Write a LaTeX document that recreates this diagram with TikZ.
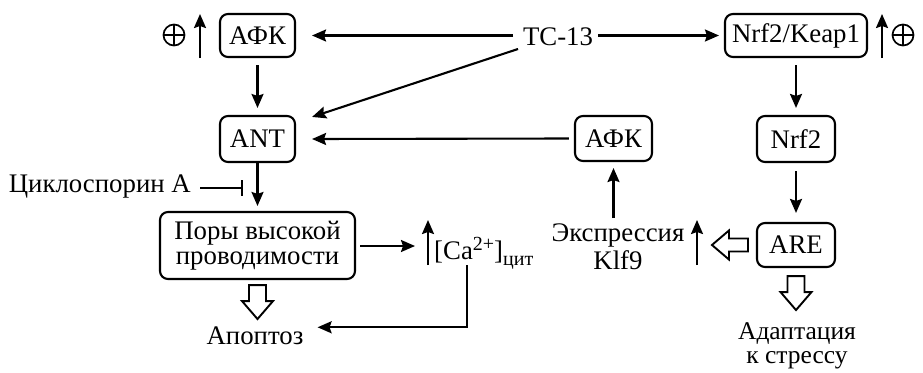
\documentclass[tikz,border=0pt]{standalone}
\usepackage{fontspec}
\setmainfont{Liberation Serif}
\usetikzlibrary{arrows.meta,calc}
\begin{document}
\begin{tikzpicture}[x=1pt,y=-1pt,
  lw/.style={line width=2.1pt},
  box/.style={draw,lw,rounded corners=8pt,inner sep=0pt,align=center,font=\fontsize{26.8}{25}\selectfont},
  txt/.style={inner sep=0pt,align=center,font=\fontsize{26.8}{28}\selectfont},
  arr/.style={lw,-{Stealth[length=14pt,width=12pt,inset=2pt]}},
  inh/.style={lw,-{Bar[width=16pt,line width=2.1pt]}},
  hollow/.style={line width=1.9pt,fill=white,line join=miter},
  oplus/.style={circle,draw,line width=1.7pt,minimum size=21pt,inner sep=0pt,
    path picture={\draw[line width=1.7pt] (path picture bounding box.north) -- (path picture bounding box.south)
      (path picture bounding box.west) -- (path picture bounding box.east);}}
]
\useasboundingbox (0,0) rectangle (923,372);
% nodes
\node[box,minimum width=75pt,minimum height=43pt] (afk1) at (257.5,35.5) {АФК};
\node[box,minimum width=75pt,minimum height=46pt] (ant) at (257.5,139) {ANT};
\node[txt] (tc) at (558,37) {ТС-13};
\node[box,minimum width=142pt,minimum height=43pt] (nk) at (796,35.5) {Nrf2/Keap1};
\node[box,minimum width=77pt,minimum height=45pt] (afk2) at (613.5,138.5) {АФК};
\node[box,minimum width=78pt,minimum height=46pt] (nrf2) at (796,139) {Nrf2};
\node[box,minimum width=78pt,minimum height=44pt] (are) at (796,245) {ARE};
\node[box,minimum width=195pt,minimum height=67pt] (pory) at (257.5,245.5) {Поры высокой\\проводимости};
\node[txt,anchor=base west] (ca) at (434,259) {[Ca\raisebox{8.5pt}{\fontsize{20}{20}\selectfont 2+}]\raisebox{-6pt}{\fontsize{20}{20}\selectfont цит}};
\node[txt] (klf) at (618,247) {Экспрессия\\Klf9};
\node[txt,anchor=base] (apo) at (255,344) {Апоптоз};
\node[txt,font=\fontsize{25.5}{24.5}\selectfont,anchor=north] (adapt) at (797,322) {Адаптация\\к стрессу};
\node[txt,anchor=east] (cyc) at (191,187) {Циклоспорин А};
\node[oplus] (p1) at (174,35) {};
\node[oplus] (p2) at (903,35) {};
% small up arrows
\coordinate (u1a) at (200,58); \coordinate (u1b) at (200,14);
\coordinate (u2a) at (882,58); \coordinate (u2b) at (882,14);
\coordinate (u3a) at (428,265); \coordinate (u3b) at (428,220);
\coordinate (u4a) at (697,265); \coordinate (u4b) at (697,220);
\draw[arr] (u1a) -- (u1b);
\draw[arr] (u2a) -- (u2b);
\draw[arr] (u3a) -- (u3b);
\draw[arr] (u4a) -- (u4b);
% connectors
\coordinate (tcl) at (513,35.5);
\coordinate (tcr) at (598,35.5);
\coordinate (tcd) at (518,49);
\coordinate (cain) at (415,246);
\coordinate (klfup) at (613.5,218);
\draw[arr] (tcl) -- ($(afk1.east)+(16,0)$);
\draw[arr] (tcr) -- ($(nk.west)+(-5,0)$);
\draw[arr] (tcd) -- ($(ant.north east)+(16,2)$);
\draw[arr] ($(afk1.south)+(0,7)$) -- ($(ant.north)+(0,-7)$);
\draw[arr] ($(afk2.west)+(-5,0)$) -- ($(ant.east)+(16,0)$);
\draw[arr] ($(nk.south)+(0,7)$) -- ($(nrf2.north)+(0,-7)$);
\draw[arr] ($(nrf2.south)+(0,8)$) -- ($(are.north)+(0,-9)$);
\draw[arr] (ant.south) -- ($(pory.north)+(0,-5)$);
\draw[inh] (cyc.east) ++(9,1) -- ++(43,0);
\draw[arr] ($(pory.east)+(4,0.5)$) -- (cain);
\coordinate (cad) at (467,265);
\draw[arr] (cad) |- ($(apo.east)+(14,-8)$);
\draw[arr] (klfup) -- ($(afk2.south)+(0,6)$);
% hollow arrows
\coordinate (h1) at ($(pory.south)+(0,5)$);
\draw[hollow] (h1) ++(-8.5,0) -- ++(0,16) -- ++(-7,0) -- ++(15.5,18) -- ++(15.5,-18) -- ++(-7,0) -- ++(0,-16) -- cycle;
\coordinate (h2) at ($(are.south)+(0,8)$);
\draw[hollow] (h2) ++(-8.5,0) -- ++(0,16) -- ++(-7,0) -- ++(15.5,18) -- ++(15.5,-18) -- ++(-7,0) -- ++(0,-16) -- cycle;
\coordinate (h3) at ($(are.west)+(-8,0)$);
\draw[hollow] (h3) ++(0,-6.5) -- ++(-19,0) -- ++(0,-8) -- ++(-17,14.5) -- ++(17,14.5) -- ++(0,-8) -- ++(19,0) -- cycle;
\end{tikzpicture}
\end{document}
